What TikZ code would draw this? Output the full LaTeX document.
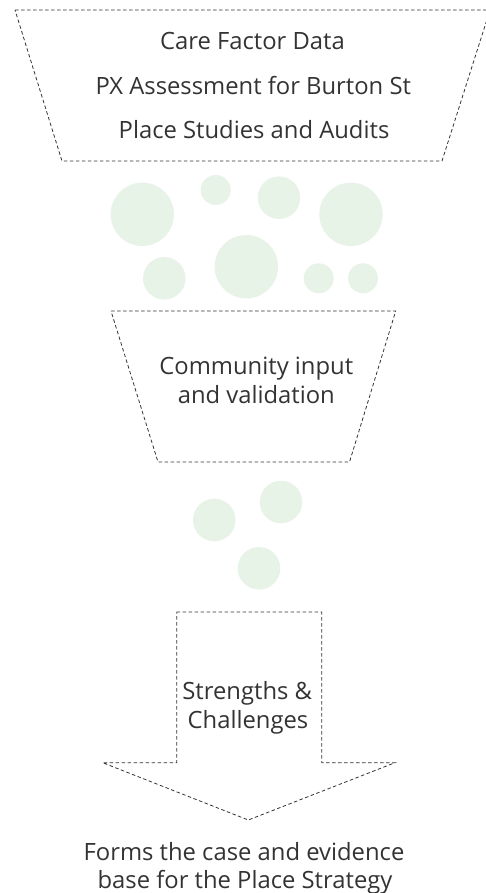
\documentclass[tikz,border=0pt]{standalone}
\usepackage{fontspec}
\setmainfont{Open Sans}
\definecolor{ink}{HTML}{333333}
\definecolor{bubble}{HTML}{E8F3E8}
\tikzset{
  outline/.style={draw=ink, line width=0.8pt, dash pattern=on 3.5pt off 2.5pt, line join=miter},
  bub/.style={fill=bubble, draw=none},
  lbl/.style={text=ink, inner sep=0pt, anchor=base, font=\fontsize{23.8}{29}\selectfont}
}
\begin{document}
\begin{tikzpicture}[x=1pt, y=-1pt]
\useasboundingbox (0,0) rectangle (486,893);
\clip (0,0) rectangle (486,893);
% top funnel
\draw[outline] (15,10) coordinate (t1) -- (490,10) coordinate (t2) -- (442,161) coordinate (t3) -- (62,161) coordinate (t4) -- cycle;
\node[lbl] (care) at (252.5,50) {Care Factor Data};
\node[lbl] (px) at (253.3,94.3) {PX Assessment for Burton St};
\node[lbl] (place) at (254,138.3) {Place Studies and Audits};
% bubbles
\fill[bub] (142.3,214.3) circle (31.7);
\fill[bub] (215.7,190) circle (15);
\fill[bub] (279,197.7) circle (21.3);
\fill[bub] (351,214.3) circle (31.7);
\fill[bub] (164.3,278.3) circle (21.3);
\fill[bub] (246.3,266.7) circle (31.7);
\fill[bub] (318.7,278.3) circle (15);
\fill[bub] (363,278.3) circle (15);
% second funnel
\draw[outline] (111,311) coordinate (s1) -- (395.7,311) coordinate (s2) -- (349.5,462) coordinate (s3) -- (158,462) coordinate (s4) -- cycle;
\node[lbl] (comm) at (256.3,374.3) {Community input};
\node[lbl] (valid) at (256.3,403.3) {and validation};
% bubbles 2
\fill[bub] (214.3,520) circle (21.3);
\fill[bub] (281,502) circle (21.3);
\fill[bub] (259,568.3) circle (21.3);
% arrow
\draw[outline] (176.7,612) coordinate (a1) -- (321.7,612) coordinate (a2) -- (321.7,762.7) coordinate (a3) -- (395,762.7) coordinate (a4) -- (248.3,820) coordinate (a5) -- (102.7,762.7) coordinate (a6) -- (176.7,762.7) coordinate (a7) -- cycle;
\node[lbl] (str) at (247.2,699.3) {Strengths \&};
\node[lbl] (chal) at (248,728.3) {Challenges};
% result
\node[lbl] (forms) at (244,860) {Forms the case and evidence};
\node[lbl] (base) at (245,888.3) {base for the Place Strategy};
\end{tikzpicture}
\end{document}
